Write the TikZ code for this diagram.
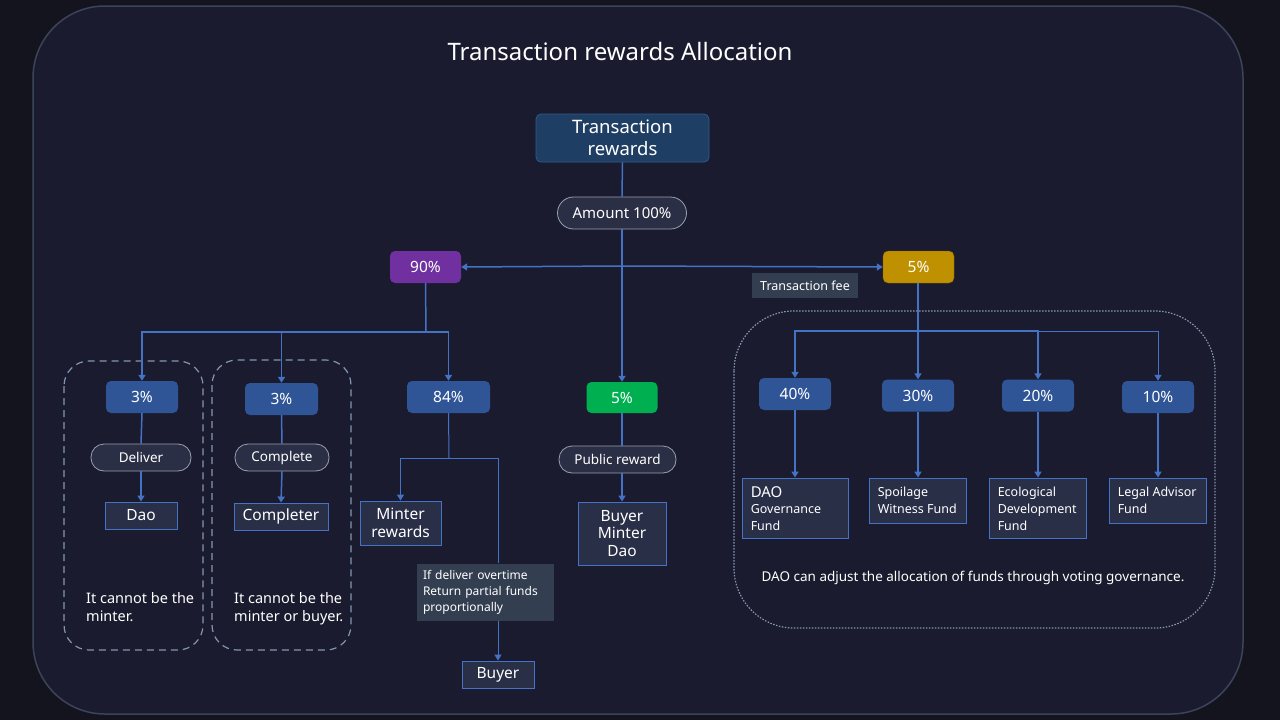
\documentclass[tikz,border=0pt]{standalone}
\usepackage{fontspec}
\setmainfont{Noto Sans}
\usetikzlibrary{arrows.meta,calc}
\definecolor{bgout}{HTML}{14141F}
\definecolor{bgin}{HTML}{1A1B2E}
\definecolor{frame}{HTML}{3B4459}
\definecolor{conn}{HTML}{4472C4}
\definecolor{trfill}{HTML}{1F3E64}
\definecolor{trdraw}{HTML}{2E5B8A}
\definecolor{pillfill}{HTML}{2B2F45}
\definecolor{pilldraw}{HTML}{9AA0B0}
\definecolor{purp}{HTML}{7030A0}
\definecolor{gold}{HTML}{BF9000}
\definecolor{grn}{HTML}{00B050}
\definecolor{pblue}{HTML}{2F5597}
\definecolor{outfill}{HTML}{2A2F48}
\definecolor{notefill}{HTML}{333F50}
\definecolor{grpdraw}{HTML}{8496B0}
\newcommand{\fs}[1]{\fontsize{#1pt}{\dimexpr #1pt*12/10\relax}\selectfont}
\tikzset{
  line/.style={draw=conn, line width=1.5pt},
  arr/.style={line, -{Triangle[length=6pt,width=7pt]}},
  pct/.style={rounded corners=5pt, fill=pblue, text=white, inner sep=0pt, font=\fs{15.5}},
  pill/.style={rounded corners=13pt, fill=pillfill, draw=pilldraw, line width=0.8pt, text=white, inner sep=0pt, font=\fs{13.5}},
  outbox/.style={fill=outfill, draw=conn, line width=0.9pt, text=white, inner sep=0pt, font=\fs{15.5}, align=center},
  fundbox/.style={fill=outfill, draw=conn, line width=0.9pt, text=white, inner sep=0pt},
  fundtxt/.style={text=white, inner sep=0pt, anchor=north west, align=left, font=\fs{12.5}},
  note/.style={fill=notefill, text=white, inner sep=0pt, font=\fs{12}},
  grp/.style={draw=grpdraw, line width=1.2pt, dash pattern=on 7pt off 5pt, rounded corners=25pt},
  dotgrp/.style={draw=grpdraw, line width=1.2pt, dash pattern=on 1.5pt off 1.5pt, rounded corners=60pt},
  plain/.style={text=white, inner sep=0pt}
}
\begin{document}
\begin{tikzpicture}[x=1pt,y=-1pt]
\fill[bgout] (0,0) rectangle (1280,720);
\useasboundingbox (0,0) rectangle (1280,720);
\draw[frame, fill=bgin, line width=1.5pt, rounded corners=72pt] (33,6) rectangle (1243,714);

\node[plain, font=\fs{24}] (title) at (620,51) {Transaction rewards Allocation};

% groups
\draw[grp] (64,361) rectangle (203,650);
\draw[grp] (212,360) rectangle (351,650);
\draw[dotgrp] (734,311) rectangle (1215,628);

% top
\node[rounded corners=5pt, fill=trfill, draw=trdraw, line width=0.8pt, text=white, inner sep=0pt,
      minimum width=173pt, minimum height=48pt, align=center, font=\fs{18.5}] (tr) at (622.5,138) {Transaction\\rewards};
\node[pill, minimum width=129pt, minimum height=32pt, rounded corners=16pt, font=\fs{15}] (amt) at (622,213) {Amount 100\%};
\node[pct, fill=purp, minimum width=71pt, minimum height=32pt] (p90) at (425.5,267) {90\%};
\node[pct, fill=gold, draw=gold!70!black, minimum width=71pt, minimum height=32pt] (y5) at (918.5,267) {5\%};
\node[note, minimum width=106pt, minimum height=25pt, font=\fs{12.5}] (fee) at (805,285.5) {Transaction fee};

% 90% branch
\node[pct, minimum width=72pt, minimum height=32pt] (a3) at (142,397) {3\%};
\node[pct, minimum width=73pt, minimum height=32pt] (b3) at (281.5,399) {3\%};
\node[pct, minimum width=83pt, minimum height=32pt] (p84) at (448.5,397) {84\%};
\node[pill, minimum width=100pt, minimum height=27pt] (deliver) at (141,457.5) {Deliver};
\node[pill, minimum width=94pt, minimum height=27pt] (complete) at (282,457.5) {Complete};
\node[outbox, minimum width=72pt, minimum height=27pt] (dao) at (141,515.5) {Dao};
\node[outbox, minimum width=94pt, minimum height=27pt] (completer) at (281,516.5) {Completer};
\node[plain, anchor=north west, align=left, font=\fs{14.5}] (t1) at (86,592) {It cannot be the\\[0.5pt]minter.};
\node[plain, anchor=north west, align=left, font=\fs{14.5}] (t2) at (234,592) {It cannot be the\\[0.5pt]minter or buyer.};
\node[outbox, minimum width=81pt, minimum height=44pt] (minter) at (400.5,523) {Minter\\rewards};
\node[note, minimum width=137pt, minimum height=57pt, align=left, text width=125pt] (nt) at (485.5,592) {If deliver overtime\\[1.5pt]Return partial funds\\[1.5pt]proportionally};
\node[outbox, minimum width=72pt, minimum height=27pt] (buyer) at (498,674.5) {Buyer};

% green
\node[pct, fill=grn, minimum width=71pt, minimum height=31pt] (g5) at (622,397.5) {5\%};
\node[pill, minimum width=117pt, minimum height=27pt] (pub) at (617.5,459.5) {Public reward};
\node[outbox, minimum width=88pt, minimum height=63pt] (bmd) at (622,533.5) {Buyer\\[-1.5pt]Minter\\[-1.5pt]Dao};

% fee branch
\node[pct, minimum width=72pt, minimum height=32pt] (p40) at (795,394) {40\%};
\node[pct, minimum width=72pt, minimum height=32pt] (p30) at (918,395.5) {30\%};
\node[pct, minimum width=72pt, minimum height=32pt] (p20) at (1038,395.5) {20\%};
\node[pct, minimum width=72pt, minimum height=32pt] (p10) at (1158,397) {10\%};
\node[fundbox, minimum width=106pt, minimum height=60pt] (f1) at (795,508) {};
\node[fundbox, minimum width=97pt, minimum height=45pt] (f2) at (917.5,500.5) {};
\node[fundbox, minimum width=97pt, minimum height=60pt] (f3) at (1037.5,508) {};
\node[fundbox, minimum width=97pt, minimum height=45pt] (f4) at (1157.5,500.5) {};
\node[fundtxt] (f1t) at ($(f1.north west)+(9,8.5)$) {{\fs{15}DAO}\\[1pt]Governance\\[2pt]Fund};
\node[fundtxt] (f2t) at ($(f2.north west)+(9,9)$) {Spoilage\\[2pt]Witness Fund};
\node[fundtxt] (f3t) at ($(f3.north west)+(9,9)$) {Ecological\\[2pt]Development\\[2pt]Fund};
\node[fundtxt] (f4t) at ($(f4.north west)+(9,9)$) {Legal Advisor\\[2pt]Fund};
\node[plain, font=\fs{13.5}] (daotxt) at (973,578) {DAO can adjust the allocation of funds through voting governance.};

% connectors
\coordinate (hmid) at (622,266);
\draw[line] (tr.south) -- (amt.north);
\draw[arr] (amt.south) -- (g5.north);
\draw[arr] (hmid) -- (p90.east);
\draw[arr] (hmid) -- (y5.west);

\coordinate (j90) at (426,332);
\draw[line] (p90.south) -- (j90);
\draw[arr] (j90) -| (a3.north);
\draw[arr] (j90) -| (b3.north);
\draw[arr] (j90) -| (p84.north);
\draw[line] (a3.south) -- (deliver.north);
\draw[arr] (deliver.south) -- (dao.north);
\draw[line] (b3.south) -- (complete.north);
\draw[arr] (complete.south) -- (completer.north);

\coordinate (j84) at (449,458);
\draw[line, line width=1pt] (p84.south) -- (j84);
\draw[arr, line width=1pt] (j84) -| (minter.north);
\draw[line, line width=1pt] (j84) -| (buyer.north |- nt.north);
\draw[arr, line width=1pt] (buyer.north |- nt.south) -- (buyer.north);

\draw[line] (g5.south) -- (pub.north -| g5.south);
\draw[arr] (pub.south -| g5.south) -- (bmd.north);

\coordinate (jy) at (918,331);
\draw[line] (y5.south -| jy) -- (jy);
\draw[arr] (jy) -| (p40.north);
\draw[arr] (jy) -- (p30.north);
\draw[arr] (jy) -| (p20.north);
\draw[arr, line width=1pt] (jy) -| (p10.north);
\draw[arr] (p40.south) -- (f1.north);
\draw[arr] (p30.south) -- (f2.north -| p30.south);
\draw[arr] (p20.south) -- (f3.north -| p20.south);
\draw[arr] (p10.south) -- (f4.north -| p10.south);
\end{tikzpicture}
\end{document}
